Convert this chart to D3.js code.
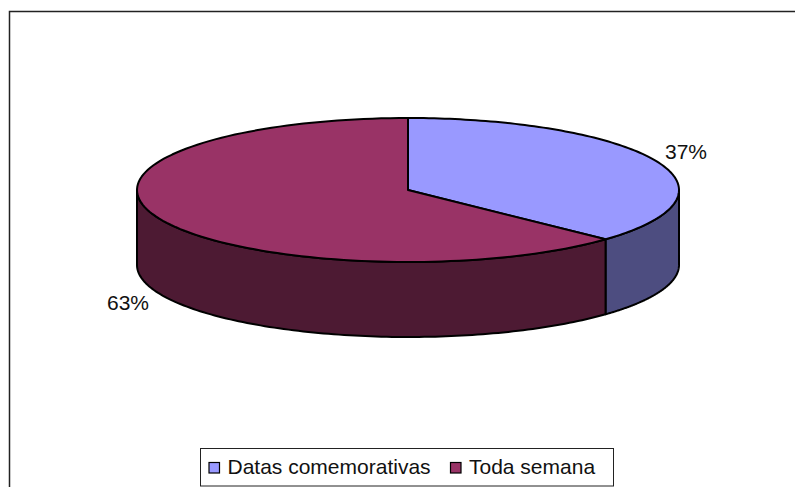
<!DOCTYPE html>
<html lang="pt">
<head>
    <meta charset="UTF-8">
    <script src="https://d3js.org/d3.v7.min.js"></script>
    <style>
        html, body { margin: 0; padding: 0; background: #fff; overflow: hidden; }
        svg { display: block; }
        text { font-family: "Liberation Sans", Arial, sans-serif; font-size: 21px; fill: #111; }
    </style>
</head>
<body>
    <svg id="chart" width="795" height="487"></svg>
    <script>
        const categories = ["Datas comemorativas", "Toda semana"];
        const values = [37, 63];
        const topColors = ["#9999ff", "#993366"];
        const sideColors = ["#4d4d80", "#4d1a33"];

        const svg = d3.select("#chart");
        const depth = 75;

        // ellipse of the pie top, unit circle mapped to pixels
        const x = d3.scaleLinear().domain([-1, 1]).range([137, 679]);
        const y = d3.scaleLinear().domain([-1, 1]).range([118, 262]);

        const pie = d3.pie().sort(null).value(d => d);
        const arcs = pie(values);

        // frame, runs off the right and bottom of the picture
        svg.append("path")
            .attr("d", "M9.5,490V11.5H800")
            .attr("fill", "none")
            .attr("stroke", "#222")
            .attr("stroke-width", 1.5);

        function rimPoints(a0, a1) {
            const pts = d3.range(0, 121).map(i => a0 + (a1 - a0) * i / 120);
            return pts.map(a => [x(Math.sin(a)), y(-Math.cos(a))]);
        }

        const line = d3.line();

        // side wall: only the front half of the rim is visible
        arcs.forEach((d, i) => {
            const a0 = Math.max(d.startAngle, Math.PI / 2);
            const a1 = Math.min(d.endAngle, Math.PI * 1.5);
            const rim = rimPoints(a0, a1);
            const lower = rim.map(p => [p[0], p[1] + depth]).reverse();
            svg.append("path")
                .attr("d", line(rim.concat(lower)) + "Z")
                .attr("fill", sideColors[i])
                .attr("stroke", "#000")
                .attr("stroke-width", 2)
                .attr("stroke-linejoin", "round");
        });

        // top slices
        arcs.forEach((d, i) => {
            const rim = rimPoints(d.startAngle, d.endAngle);
            const centre = [x(0), y(0)];
            svg.append("path")
                .attr("d", line([centre].concat(rim)) + "Z")
                .attr("fill", topColors[i])
                .attr("stroke", "#000")
                .attr("stroke-width", 2)
                .attr("stroke-linejoin", "round");
        });

        // percent labels
        const labelPos = [[686, 159], [128, 310]];
        const total = d3.sum(values);
        svg.selectAll(".pct")
            .data(values)
            .enter()
            .append("text")
            .attr("class", "pct")
            .attr("text-anchor", "middle")
            .attr("x", (d, i) => labelPos[i][0])
            .attr("y", (d, i) => labelPos[i][1])
            .text(d => Math.round(d / total * 100) + "%");

        // legend
        svg.append("rect")
            .attr("x", 200.5).attr("y", 448.5)
            .attr("width", 413).attr("height", 37.5)
            .attr("fill", "#fff").attr("stroke", "#222").attr("stroke-width", 1);

        const legendX = [208.5, 450];
        const legend = svg.selectAll(".legend")
            .data(categories)
            .enter()
            .append("g")
            .attr("class", "legend")
            .attr("transform", (d, i) => `translate(${legendX[i]},0)`);

        legend.append("rect")
            .attr("x", 0.5).attr("y", 462.5)
            .attr("width", 10.5).attr("height", 10.5)
            .attr("fill", (d, i) => topColors[i])
            .attr("stroke", "#000")
            .attr("stroke-width", 1.2);

        legend.append("text")
            .attr("x", 19)
            .attr("y", 474)
            .text(d => d);
    </script>
</body>
</html>
